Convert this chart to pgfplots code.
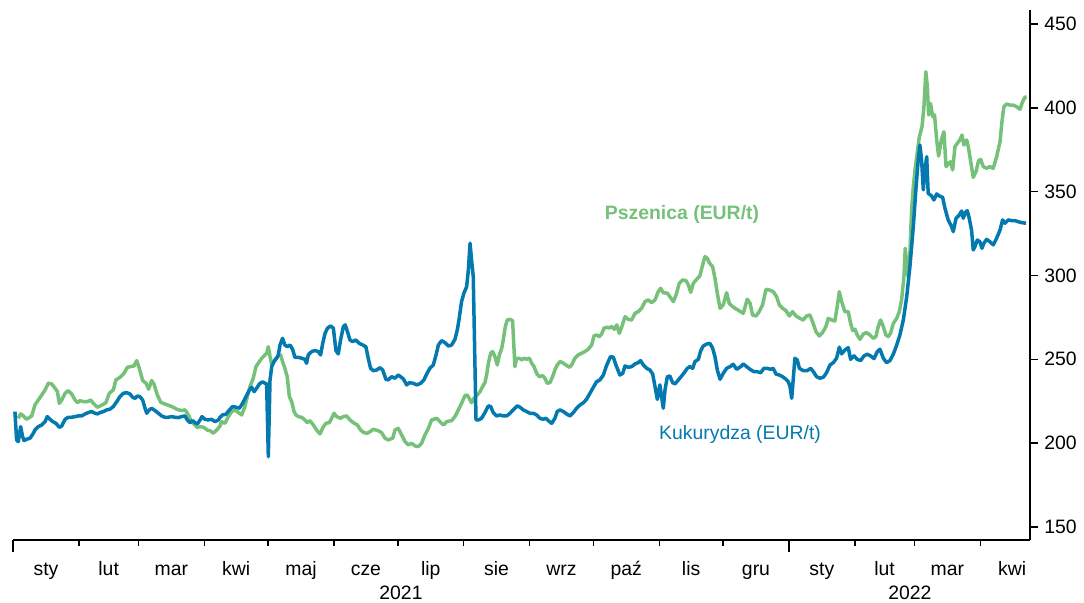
\documentclass[border=0pt]{standalone}
\usepackage{fontspec}
\setmainfont{Liberation Sans}
\usepackage{pgfplots}
\pgfplotsset{compat=1.18}
\definecolor{wheat}{RGB}{118,193,122}
\definecolor{corn}{RGB}{4,121,176}
\newcommand{\lblfont}{\fontsize{9.7}{11.5}\selectfont}
\begin{document}
\begin{tikzpicture}
\begin{axis}[
  scale only axis, width=508.5pt, height=265pt,
  xmin=0, xmax=478.4, ymin=142.2, ymax=458.3,
  axis x line*=bottom, axis y line*=right,
  axis line style={line width=1pt, -},
  tick align=outside,
  major tick length=4pt,
  ytick={150,200,250,300,350,400,450},
  ytick style={line width=0.75pt, black},
  xtick={15.5,45,74.5,105,135.5,166,196.5,227.5,258,288.5,319,349.5,380.5,410,439.5,470},
  xticklabels={sty,lut,mar,kwi,maj,cze,lip,sie,wrz,paź,lis,gru,sty,lut,mar,kwi},
  xtick style={draw=none},
  xticklabel style={anchor=north, inner sep=0pt, text height=6.9pt, text depth=2pt, yshift=-6.8pt, font=\lblfont},
  yticklabel style={anchor=west, inner sep=0pt, xshift=3pt, font=\lblfont},
  /pgf/number format/assume math mode=true,
  clip=false,
]
\addplot[wheat, line width=1.75pt, line join=round] coordinates {
(2.5,214.8)(3.6,217.4)(4.9,216.2)(6.4,214.2)(8.8,216.2)(10.3,222.7)(11.9,225.7)(13.5,228.7)(15.1,231.7)(16.6,235.7)
(18.2,235.3)(19.8,232.7)(20.9,230.7)(21.8,223.7)(22.9,225.7)(24.5,229.7)(26.0,231.3)(27.6,229.3)(29.2,225.7)(30.3,224.1)
(31.5,225.3)(33.1,224.7)(35.0,224.7)(36.5,225.7)(38.1,223.3)(39.7,221.4)(41.7,222.6)(43.7,224.1)(45.3,229.7)(47.2,231.7)
(48.4,237.7)(50.3,239.2)(52.2,241.6)(53.8,245.2)(55.3,245.6)(56.9,246.0)(58.2,249.2)(59.4,244.6)(61.0,237.3)(62.6,235.7)
(63.8,232.1)(65.2,237.3)(66.3,235.3)(67.9,228.7)(69.5,224.3)(71.5,223.3)(73.8,222.2)(75.4,221.4)(77.0,220.2)(79.3,219.4)
(80.9,219.8)(82.5,216.8)(83.6,213.8)(85.1,211.4)(86.7,209.4)(88.0,209.8)(89.8,209.4)(91.4,207.8)(93.0,207.2)(94.2,205.9)
(95.8,207.8)(97.4,210.2)(98.1,212.8)(99.7,211.8)(101.3,215.8)(102.9,218.8)(104.4,219.8)(106.5,217.8)(107.6,216.8)(109.1,221.8)
(110.2,227.7)(111.5,233.7)(113.0,238.7)(114.3,245.6)(115.9,248.6)(117.0,250.6)(118.1,252.0)(119.3,253.6)(120.1,257.5)(120.9,251.6)
(121.7,246.6)(122.5,248.6)(123.7,250.6)(124.8,252.0)(125.9,252.6)(126.8,248.6)(127.9,244.6)(129.0,239.6)(130.0,227.7)(131.1,224.7)
(132.2,218.8)(133.1,216.8)(134.2,215.8)(135.8,215.4)(137.3,213.8)(138.4,212.2)(139.7,213.4)(141.3,210.8)(142.8,207.8)(144.4,205.5)
(146.0,209.8)(147.2,211.8)(148.8,212.2)(149.9,214.8)(151.0,217.8)(152.2,215.8)(154.1,214.8)(155.4,215.8)(156.9,216.2)(158.5,213.8)
(160.1,212.2)(162.0,210.8)(163.5,207.8)(165.1,206.2)(166.7,205.9)(167.9,206.8)(169.5,208.2)(171.8,207.4)(173.4,206.2)(175.0,202.9)
(176.5,201.9)(178.6,202.9)(179.7,207.8)(181.2,208.8)(182.8,204.9)(184.4,200.9)(186.0,198.9)(187.5,199.9)(189.1,198.3)(190.7,197.9)
(192.2,199.9)(193.8,204.9)(195.4,208.8)(196.9,213.8)(199.3,214.8)(200.8,212.8)(202.4,210.8)(204.0,212.8)(206.3,213.4)(207.9,215.8)
(209.5,219.8)(211.0,223.7)(212.6,228.3)(213.7,228.7)(215.0,225.7)(215.7,224.1)(216.8,226.7)(218.4,228.7)(219.7,230.7)(220.9,233.7)
(222.0,236.1)(222.8,240.6)(223.6,247.6)(224.7,253.6)(225.6,254.6)(226.7,251.6)(227.8,246.6)(228.8,252.6)(229.9,256.6)(230.6,261.5)
(231.6,269.5)(232.5,273.4)(233.8,273.8)(235.0,273.0)(236.1,245.6)(236.9,250.6)(238.2,250.6)(239.3,249.6)(240.4,250.6)(241.6,250.0)
(242.9,250.6)(244.0,247.6)(245.1,245.6)(246.3,241.6)(247.6,239.6)(249.1,240.2)(250.2,238.7)(251.3,235.7)(252.6,236.1)(253.8,239.6)
(254.9,243.6)(256.0,246.6)(257.3,248.6)(258.5,248.0)(260.1,246.6)(261.7,245.2)(262.8,246.6)(264.3,250.6)(265.9,252.6)(267.5,253.6)
(269.0,254.6)(270.6,256.0)(272.2,258.5)(273.3,263.9)(274.5,264.5)(275.8,263.5)(276.9,265.1)(278.0,268.5)(279.2,269.1)(280.5,268.7)
(281.6,269.5)(282.9,267.9)(284.0,270.5)(285.2,265.5)(286.3,269.1)(287.9,275.4)(289.4,273.8)(291.0,273.4)(292.6,277.4)(294.1,278.4)
(295.7,280.4)(297.3,284.4)(298.8,285.4)(300.4,283.8)(302.0,285.4)(303.5,290.3)(304.6,292.3)(305.9,289.7)(307.8,289.4)(309.0,287.3)
(310.6,284.4)(311.9,288.3)(313.4,295.3)(315.0,297.3)(316.6,296.9)(317.7,294.3)(318.8,289.9)(320.0,295.3)(321.6,297.7)(323.1,299.7)
(324.4,306.2)(325.5,311.2)(326.6,310.2)(327.5,307.6)(329.1,305.2)(330.2,298.3)(331.3,289.4)(332.6,280.4)(334.1,282.4)(335.7,289.7)
(336.9,283.4)(338.5,281.4)(340.4,279.8)(342.3,278.4)(343.5,277.4)(345.4,285.8)(346.7,283.4)(347.9,276.4)(349.5,275.8)(351.0,278.4)
(352.6,282.4)(354.2,291.7)(355.8,291.3)(357.6,290.3)(359.2,287.3)(360.5,282.4)(362.0,280.4)(363.6,279.0)(365.2,275.8)(366.7,278.4)
(368.3,275.8)(370.2,274.4)(371.7,273.4)(373.3,275.8)(374.9,276.4)(376.1,272.4)(377.7,266.5)(379.3,263.9)(380.8,265.9)(382.4,269.5)
(383.5,274.4)(385.1,273.4)(386.6,272.8)(387.7,281.4)(388.7,290.3)(389.8,284.4)(391.3,278.4)(392.9,278.4)(394.0,271.4)(395.0,267.1)
(396.1,267.9)(397.1,264.5)(398.4,261.9)(400.0,265.1)(401.5,265.9)(403.1,264.5)(404.7,262.5)(405.9,263.5)(407.0,269.5)(408.1,273.4)
(409.4,269.5)(410.6,264.5)(411.7,263.5)(412.8,265.5)(414.1,271.4)(415.7,274.4)(416.9,278.4)(418.0,285.4)(419.1,299.3)(419.7,316.2)
(420.4,305.2)(421.1,299.3)(421.9,313.2)(422.7,339.0)(423.5,352.9)(424.3,362.9)(425.4,373.8)(426.3,382.4)(427.6,388.7)(428.5,400.6)
(429.4,421.5)(430.1,412.6)(430.7,395.7)(431.6,402.6)(432.6,394.7)(433.5,395.7)(434.5,380.8)(435.4,371.2)(436.7,380.8)(437.9,385.7)
(438.9,364.9)(440.1,366.9)(441.0,367.8)(442.0,362.9)(443.1,376.8)(444.2,378.8)(445.4,380.8)(446.4,383.7)(447.3,377.8)(448.6,380.8)
(449.5,375.8)(450.5,367.8)(451.7,358.5)(453.0,361.9)(454.2,368.4)(455.2,369.2)(456.4,364.9)(458.0,363.9)(459.5,364.9)(461.1,363.9)
(462.7,370.8)(464.3,379.8)(465.2,391.7)(466.1,400.6)(467.4,402.2)(469.0,401.6)(470.5,401.6)(472.1,400.6)(473.7,399.1)(474.9,403.6)
(476.0,406.2)(476.8,406.6)
};
\addplot[corn, line width=1.75pt, line join=round] coordinates {
(0.9,218.8)(1.7,201.9)(2.5,200.9)(3.6,209.8)(4.5,203.9)(5.2,201.5)(6.4,202.3)(8.0,202.9)(9.6,205.9)(10.3,207.8)
(11.9,209.8)(13.5,210.8)(15.1,212.8)(16.1,215.8)(17.4,214.2)(18.7,212.8)(20.2,211.8)(21.8,209.4)(22.9,210.2)(24.5,214.2)
(26.0,215.4)(27.6,215.4)(29.2,215.8)(30.7,216.2)(32.3,216.2)(33.9,217.4)(35.4,218.2)(37.0,218.8)(38.6,217.8)(39.7,217.4)
(40.9,218.2)(42.5,218.8)(44.1,219.8)(45.6,220.2)(47.2,221.8)(48.8,224.7)(50.3,227.7)(51.9,229.7)(53.5,230.1)(55.0,229.3)
(56.3,227.3)(57.4,226.7)(58.5,228.1)(59.7,227.7)(61.0,225.7)(62.1,220.8)(62.9,217.8)(64.1,219.8)(65.2,220.8)(66.8,219.4)
(68.4,217.8)(69.9,216.2)(71.5,215.4)(73.1,215.4)(74.6,215.8)(76.2,215.4)(77.8,215.2)(79.3,215.8)(80.9,216.2)(82.0,213.8)
(83.3,212.2)(84.5,213.4)(85.6,212.2)(86.7,211.4)(88.0,213.8)(88.9,215.8)(90.3,214.2)(91.9,213.8)(93.4,214.2)(95.0,212.8)
(96.6,213.8)(97.4,215.4)(98.6,216.8)(100.2,217.2)(101.8,219.8)(103.3,221.8)(104.9,221.4)(106.5,220.8)(108.0,223.7)(109.6,227.7)
(111.2,231.7)(112.3,233.3)(113.4,230.7)(114.6,232.7)(115.9,235.3)(117.4,236.6)(118.5,235.7)(119.3,235.5)(120.1,191.9)(120.9,237.7)
(121.7,245.6)(122.8,248.6)(124.0,250.6)(124.8,252.6)(125.6,258.5)(126.8,262.5)(127.9,258.5)(129.0,257.5)(130.3,258.5)(131.5,256.0)
(132.6,251.2)(134.2,251.2)(135.8,250.6)(137.3,250.0)(138.1,247.6)(138.9,252.6)(140.5,254.6)(142.0,255.2)(143.6,254.6)(144.7,252.6)
(145.7,259.5)(146.8,265.5)(147.9,268.5)(149.4,269.9)(150.7,268.5)(151.9,255.2)(153.0,253.2)(154.1,261.5)(155.4,269.5)(156.3,270.5)
(157.3,266.5)(158.5,261.5)(159.8,260.5)(161.3,261.5)(162.9,259.5)(164.5,258.5)(166.0,257.5)(167.1,250.6)(168.2,244.6)(169.5,243.2)
(171.1,243.6)(172.6,245.0)(173.9,243.6)(175.4,238.1)(176.5,237.7)(178.1,239.6)(179.7,238.7)(181.2,240.6)(182.3,239.6)(183.6,238.3)
(185.2,234.7)(186.4,236.0)(188.3,235.7)(189.9,234.7)(191.8,235.7)(193.3,237.7)(194.6,241.2)(196.1,244.6)(197.7,246.6)(199.0,252.6)
(200.1,258.5)(201.6,261.1)(203.2,259.9)(204.8,257.9)(206.3,258.5)(207.9,261.9)(209.0,267.5)(209.9,274.4)(211.0,284.4)(212.1,289.4)
(213.4,293.3)(214.2,303.3)(215.0,319.2)(215.7,309.2)(216.5,299.3)(217.8,213.8)(218.9,213.8)(220.4,214.8)(222.0,218.2)(223.6,222.2)
(224.7,221.8)(225.9,218.2)(227.5,216.2)(229.1,216.8)(230.6,216.2)(232.2,216.2)(233.8,217.8)(235.3,219.8)(237.2,222.2)(238.5,221.4)
(240.0,219.8)(241.6,218.8)(243.2,217.8)(244.7,217.8)(246.3,216.8)(247.9,214.8)(249.4,214.2)(250.7,214.8)(251.8,213.4)(253.4,211.8)
(254.9,214.8)(256.0,218.8)(257.3,219.8)(258.9,218.8)(260.4,217.4)(262.0,216.2)(263.6,218.2)(265.1,220.8)(266.7,222.7)(268.3,224.1)
(269.8,226.1)(271.4,229.7)(273.0,233.3)(274.5,236.6)(276.1,237.7)(277.7,240.6)(278.9,245.2)(280.0,248.6)(281.1,251.6)(282.4,251.2)
(283.6,246.6)(285.5,240.6)(286.8,241.6)(287.9,246.0)(289.4,245.2)(291.0,245.6)(292.6,247.2)(294.1,248.0)(295.2,249.2)(296.5,246.6)
(298.1,244.6)(299.6,243.6)(300.9,241.2)(302.0,233.7)(303.1,226.1)(304.3,234.7)(305.1,227.7)(305.9,220.8)(306.7,231.7)(307.8,239.6)
(309.0,240.0)(310.3,236.0)(311.4,235.3)(313.0,237.7)(314.5,240.0)(316.1,242.6)(317.2,244.6)(318.4,245.6)(319.7,244.6)(320.8,248.6)
(322.4,250.0)(323.5,255.1)(324.7,257.9)(326.3,259.1)(327.8,259.5)(329.1,256.6)(330.2,251.6)(331.3,243.6)(332.6,238.1)(334.1,241.6)
(335.7,244.6)(337.3,245.6)(338.8,247.0)(340.4,244.0)(342.3,245.6)(343.5,247.2)(345.1,245.6)(346.7,244.0)(348.5,242.6)(350.1,242.6)
(351.7,242.0)(353.2,244.6)(354.8,244.6)(356.4,244.0)(357.6,244.6)(358.9,241.2)(360.5,240.6)(362.0,239.6)(363.6,238.1)(364.7,236.6)
(365.5,233.7)(366.3,226.7)(367.0,237.7)(367.8,250.6)(368.9,249.6)(369.9,244.6)(371.7,243.2)(373.6,243.2)(375.2,244.6)(376.5,242.6)
(378.0,239.6)(379.6,238.7)(381.2,239.3)(382.7,242.0)(384.3,246.6)(385.9,248.0)(387.4,250.6)(388.7,257.2)(389.8,253.2)(391.3,255.5)
(392.9,256.9)(394.0,250.0)(395.6,252.0)(397.1,250.0)(398.7,249.2)(400.3,252.0)(401.8,253.0)(403.4,252.0)(405.0,250.4)(406.6,254.6)
(407.8,256.0)(409.4,250.6)(410.9,248.0)(412.5,249.2)(414.1,253.0)(415.7,258.5)(417.2,264.5)(418.8,273.4)(420.4,287.3)(421.9,305.2)
(423.5,329.1)(424.7,351.0)(425.8,368.8)(426.6,377.8)(427.4,368.8)(428.2,351.0)(429.0,362.9)(429.8,370.8)(430.5,349.0)(432.1,347.4)
(433.2,345.0)(434.5,348.6)(435.7,347.4)(437.3,346.6)(438.4,340.0)(439.9,333.1)(441.5,329.1)(442.3,326.1)(443.6,334.1)(445.1,336.0)
(446.2,338.4)(447.0,334.1)(448.0,337.6)(448.9,338.6)(449.8,334.1)(450.9,327.1)(451.7,315.2)(452.5,317.2)(453.6,321.1)(454.8,320.1)
(455.8,316.2)(456.7,319.2)(458.0,321.5)(459.5,320.1)(461.1,318.2)(462.7,322.2)(464.3,327.1)(465.5,333.1)(466.6,331.1)(468.2,333.1)
(469.7,332.7)(471.3,332.7)(472.9,332.0)(474.5,331.5)(476.5,331.1)
};
\node[wheat, font=\bfseries\lblfont] at (axis cs:314.7,336.6) {Pszenica (EUR/t)};
\node[corn, font=\lblfont] at (axis cs:342,204.9) {Kukurydza (EUR/t)};
\pgfplotsinvokeforeach{31,59,90,120,151,181,212,243,273,304,334,396,424,455}{
  \draw[line width=0.75pt] (axis cs:#1,142.2) -- ([yshift=-3pt]axis cs:#1,142.2);
}
\pgfplotsinvokeforeach{0,365}{
  \draw[line width=0.75pt] (axis cs:#1,142.2) -- ([yshift=-6pt]axis cs:#1,142.2);
}
\node[anchor=base, font=\lblfont] at ([yshift=-29.6pt]axis cs:182.5,142.2) {2021};
\node[anchor=base, font=\lblfont] at ([yshift=-29.6pt]axis cs:421.9,142.2) {2022};
\end{axis}
\pgfresetboundingbox
\path ([xshift=-6.5pt,yshift=-31pt]current axis.south west) rectangle ([xshift=27pt,yshift=5pt]current axis.north east);
\end{tikzpicture}
\end{document}
